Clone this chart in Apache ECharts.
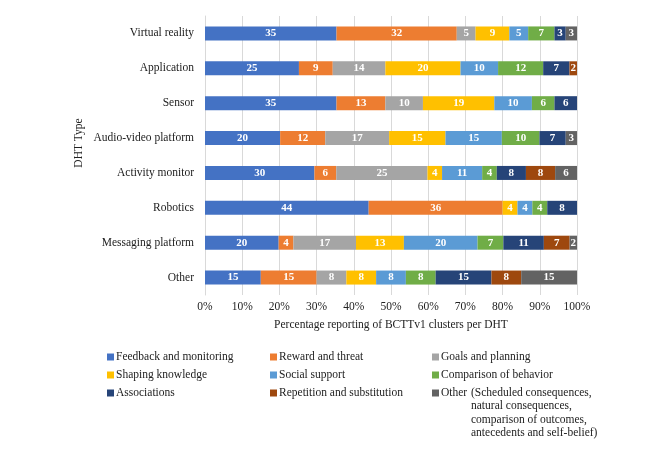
<!DOCTYPE html>
<html>
<head>
<meta charset="utf-8">
<script src="https://cdn.jsdelivr.net/npm/echarts@6/dist/echarts.min.js"></script>
<style>
  html, body { margin: 0; padding: 0; background: #fff; }
  #chart { width: 666px; height: 455px; }
</style>
</head>
<body>
<div id="chart"></div>
<script>
// DHT types, top to bottom
var dhtTypes = ['Virtual reality', 'Application', 'Sensor', 'Audio-video platform',
  'Activity monitor', 'Robotics', 'Messaging platform', 'Other'];

var clusterNames = ['Feedback and monitoring', 'Reward and threat', 'Goals and planning',
  'Shaping knowledge', 'Social support', 'Comparison of behavior', 'Associations',
  'Repetition and substitution', 'Other'];

// reported % per cluster, one value per DHT type (same order as dhtTypes)
var feedbackMonitoring = [35, 25, 35, 20, 30, 44, 20, 15];
var rewardThreat       = [32,  9, 13, 12,  6, 36,  4, 15];
var goalsPlanning      = [ 5, 14, 10, 17, 25,  0, 17,  8];
var shapingKnowledge   = [ 9, 20, 19, 15,  4,  4, 13,  8];
var socialSupport      = [ 5, 10, 10, 15, 11,  4, 20,  8];
var comparisonBehavior = [ 7, 12,  6, 10,  4,  4,  7,  8];
var associations       = [ 3,  7,  6,  7,  8,  8, 11, 15];
var repetitionSubst    = [ 0,  2,  0,  0,  8,  0,  7,  8];
var otherClusters      = [ 3,  0,  0,  3,  6,  0,  2, 15];

var xTicks = [0, 10, 20, 30, 40, 50, 60, 70, 80, 90, 100];

var colors = ['#4472C4', '#ED7D31', '#A5A5A5', '#FFC000', '#5B9BD5',
  '#70AD47', '#264478', '#9E480E', '#636363'];

var allSeries = [feedbackMonitoring, rewardThreat, goalsPlanning, shapingKnowledge,
  socialSupport, comparisonBehavior, associations, repetitionSubst, otherClusters];

// row totals, so each bar fills 100%
var rowTotals = dhtTypes.map(function (d, i) {
  return allSeries.reduce(function (s, arr) { return s + arr[i]; }, 0);
});

var serif = '"Liberation Serif", "Times New Roman", serif';
var fs = 11.5;

var chart = echarts.init(document.getElementById('chart'));

var series = allSeries.map(function (arr, k) {
  return {
    name: clusterNames[k],
    type: 'bar',
    stack: 'total',
    barWidth: 14,
    itemStyle: { color: colors[k] },
    label: {
      show: true,
      color: '#fff',
      fontFamily: serif,
      fontWeight: 'bold',
      fontSize: 11,
      formatter: function (p) { return p.data.raw ? p.data.raw : ''; }
    },
    data: arr.map(function (v, i) {
      return { value: v / rowTotals[i] * 100, raw: v };
    })
  };
});

function legendBlock(left, names) {
  return {
    orient: 'vertical',
    left: left,
    top: 346,
    itemWidth: 7,
    itemHeight: 7,
    itemGap: 6,
    icon: 'rect',
    data: names,
    textStyle: { fontFamily: serif, fontSize: fs, lineHeight: 12, color: '#222', padding: [0, 0, 0, -3] }
  };
}

chart.setOption({
  animation: false,
  grid: { left: 205, right: 89, top: 16, bottom: 160 },
  legend: [
    legendBlock(102, [clusterNames[0], clusterNames[3], clusterNames[6]]),
    legendBlock(265, [clusterNames[1], clusterNames[4], clusterNames[7]]),
    legendBlock(427, [clusterNames[2], clusterNames[5], clusterNames[8]])
  ],
  graphic: [{
    type: 'text',
    left: 471,
    top: 386,
    style: {
      text: '(Scheduled consequences,\nnatural consequences,\ncomparison of outcomes,\nantecedents and self-belief)',
      font: fs + 'px ' + serif,
      fill: '#222',
      lineHeight: 13.5
    }
  }, {
    type: 'text',
    x: 79,
    y: 143,
    rotation: Math.PI / 2,
    style: {
      text: 'DHT Type',
      font: fs + 'px ' + serif,
      fill: '#222',
      textAlign: 'center',
      textVerticalAlign: 'middle'
    }
  }],
  xAxis: {
    type: 'value',
    min: xTicks[0],
    max: xTicks[xTicks.length - 1],
    interval: 10,
    name: 'Percentage reporting of BCTTv1 clusters per DHT',
    nameLocation: 'middle',
    nameGap: 24,
    nameTextStyle: { fontFamily: serif, fontSize: fs, color: '#222' },
    axisLine: { show: false },
    axisTick: { show: false },
    axisLabel: {
      fontFamily: serif, fontSize: fs, color: '#222', margin: 6,
      formatter: '{value}%'
    },
    splitLine: { show: true, lineStyle: { color: '#d9d9d9' } }
  },
  yAxis: {
    type: 'category',
    inverse: true,
    data: dhtTypes,
    axisLine: { show: true, lineStyle: { color: '#d9d9d9' } },
    axisTick: { show: false },
    axisLabel: { fontFamily: serif, fontSize: fs, color: '#222', margin: 11 }
  },
  series: series
});
</script>
</body>
</html>
